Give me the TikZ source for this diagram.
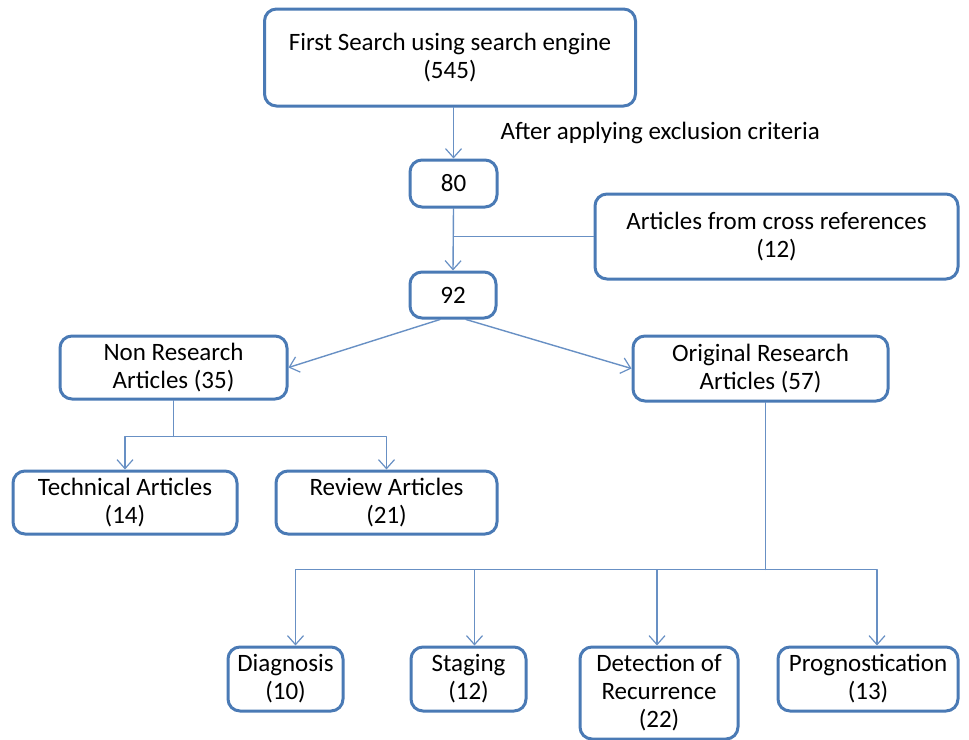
\documentclass[tikz,border=0pt]{standalone}
\usepackage{fontspec}
\setmainfont{Carlito}
\usetikzlibrary{arrows.meta,calc}
\definecolor{boxblue}{HTML}{4A7AB5}
\definecolor{lineblue}{HTML}{6890C4}
\tikzset{
	box/.style={draw=boxblue,line width=3pt,rounded corners=12pt,fill=white,
		align=center,inner sep=2pt,font=\fontsize{25}{28}\selectfont},
	conn/.style={draw=lineblue,line width=1.4pt},
}
\begin{document}
\begin{tikzpicture}[line cap=round,line join=round,>={Straight Barb[length=9pt,width=16pt,line width=1.2pt]},x=1pt,
		y=-1pt]
	\useasboundingbox (0,0) rectangle (969,739); %khung hinh
	% cac hop
	\node[box,minimum width=371,minimum height=97] (first) at (450,57.5)
		{First Search using search engine\\(545)};
	\node[anchor=west,font=\fontsize{25}{28}\selectfont] (excl) at (497,133)
		{After applying exclusion criteria};
	\node[box,minimum width=87,minimum height=47] (n80) at (453.5,183.5) {80};
	\node[box,minimum width=363,minimum height=85] (cross) at (776.5,236.5)
		{Articles from cross references\\(12)};
	\node[box,minimum width=86,minimum height=46] (n92) at (453,295) {92};
	\node[box,minimum width=227,minimum height=63] (nonres) at (173.5,367.5)
		{Non Research\\Articles (35)};
	\node[box,minimum width=255,minimum height=65] (origres) at (760.5,368.5)
		{Original Research\\Articles (57)};
	\node[box,minimum width=224,minimum height=63] (tech) at (125,502.5)
		{Technical Articles\\(14)};
	\node[box,minimum width=221,minimum height=63] (review) at (386.5,502.5)
		{Review Articles\\(21)};
	\node[box,minimum width=115,minimum height=64] (diag) at (285.5,679)
		{Diagnosis\\(10)};
	\node[box,minimum width=115,minimum height=64] (stag) at (468.5,679)
		{Staging\\(12)};
	\node[box,minimum width=158,minimum height=92] (detect) at (659,693)
		{Detection of\\Recurrence\\(22)};
	\node[box,minimum width=180,minimum height=64] (prog) at (868,679)
		{Prognostication\\(13)};
	% cac duong noi
	\draw[conn,->] (n80.north |- first.south) -- (n80.north);
	\draw[conn,->] (n80.south) -- (n92.north);
	\draw[conn] (cross.west) -- (n80.south |- cross.west); %nhap them bai
	\draw[conn,->] ($(n92.south)+(-13,0)$) -- (nonres.east);
	\draw[conn,->] ($(n92.south)+(13,0)$) -- (origres.west);
	% nhanh trai
	\draw[conn] (nonres.south) -- ++(0,36) coordinate (nsplit);
	\draw[conn,->] (nsplit) -| (tech.north);
	\draw[conn,->] (nsplit) -| (review.north);
	% nhanh phai
	\draw[conn] ($(origres.south)+(5,0)$) -- ++(0,167) coordinate (osplit);
	\draw[conn,->] (osplit) -| ($(diag.north)+(10,0)$);
	\draw[conn,->] (osplit) -| ($(stag.north)+(6,0)$);
	\draw[conn,->] (osplit) -| ($(detect.north)+(-2,0)$);
	\draw[conn,->] (osplit) -| ($(prog.north)+(9,0)$);
\end{tikzpicture}
\end{document}
